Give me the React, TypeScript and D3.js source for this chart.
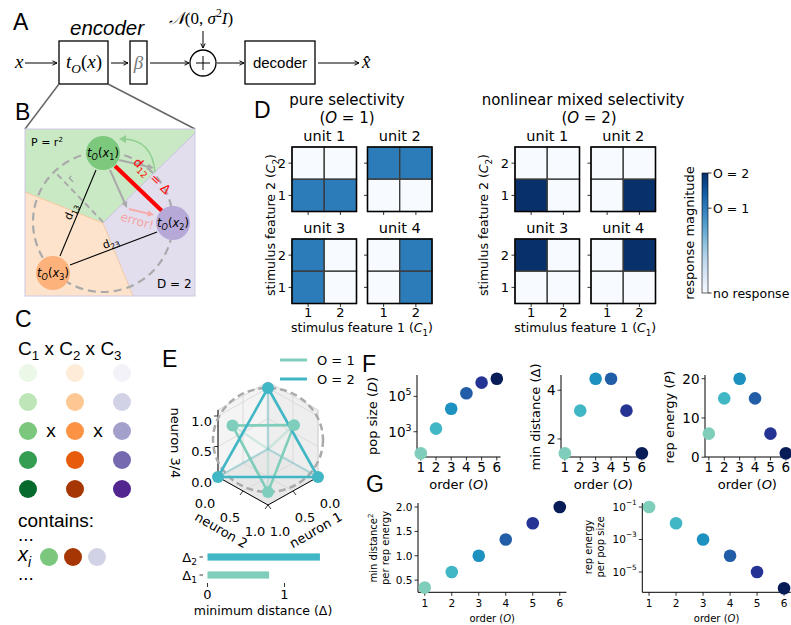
import React from "react";
import * as d3 from "d3";

const MPL = "DejaVu Sans, sans-serif";
const ARIAL = "Liberation Sans, Arial, sans-serif";
const SERIF = "Liberation Serif, serif";

// ---------------- F / G data ----------------
const ORDERS = [1, 2, 3, 4, 5, 6];
const ORDER_COLORS = ["#7fcdbb", "#41b6c4", "#1d91c0", "#225ea8", "#253494", "#081d58"];
const POP_SIZE = [60, 1500, 20000, 150000, 600000, 1000000];
const MIN_DISTANCE = [1.414, 3.162, 4.472, 4.472, 3.162, 1.414];
const REP_ENERGY = [6, 15, 20, 15, 6, 1];
const DIST2_PER_ENERGY = [0.35, 0.667, 1.0, 1.333, 1.667, 2.0];
const ENERGY_PER_POP = [1e-1, 1e-2, 1e-3, 1e-4, 1e-5, 1e-6];

// ---------------- D data ----------------
const C1_LEVELS = ["1", "2"];
const C2_LEVELS = ["2", "1"]; // top row first
const PURE_RESPONSES = [
  [[0, 0], [0.707, 0.707]],
  [[0.707, 0.707], [0, 0]],
  [[0.707, 0], [0.707, 0]],
  [[0, 0.707], [0, 0.707]],
];
const MIXED_RESPONSES = [
  [[0, 0], [1, 0]],
  [[0, 0], [0, 1]],
  [[1, 0], [0, 0]],
  [[0, 1], [0, 0]],
];
const UNIT_NAMES = ["unit 1", "unit 2", "unit 3", "unit 4"];
const COLORBAR_TICKS = [0, 0.707, 1];
const COLORBAR_LABELS = ["no response", "O = 1", "O = 2"];

// ---------------- E data ----------------
const E_SERIES = ["O = 1", "O = 2"];
const E_COLORS = ["#7fcdbb", "#41b6c4"];
const E_POINTS_O1 = [[0.71, 0, 0.71], [0, 0.52, 0.63], [0.77, 0.77, 0]];
const E_POINTS_O2 = [[1, 0, 0], [0, 1, 0], [0, 0, 1]];
const E_HIDDEN_POINT = [0, 0, 0];
const E_TICKS = [0, 0.5, 1];
const DELTA_NAMES = ["2", "1"];
const DELTA_VALUES = [1.46, 0.8];
const DELTA_TICKS = [0, 1];

// ---------------- C data ----------------
const C_LEVEL_T = [0.08, 0.28, 0.48, 0.68, 0.88];
const C_SCHEMES = [d3.interpolateGreens, d3.interpolateOranges, d3.interpolatePurples];
const C_EXAMPLE_LEVELS = [2, 4, 1];

type Seg = { t: string; it?: boolean; sub?: boolean; sup?: boolean };
function Rich(p: any) {
  const { x, y, segs, size, family = MPL, anchor = "start", fill = "#000", transform, dy } = p;
  let cur = 0;
  return (
    <text x={x} y={y} dy={dy} fontSize={size} fontFamily={family} textAnchor={anchor} fill={fill} transform={transform}>
      {segs.map((s: Seg, i: number) => {
        const target = s.sub ? size * 0.28 : s.sup ? -size * 0.42 : 0;
        const d = target - cur;
        cur = target;
        return (
          <tspan key={i} dy={d} fontStyle={s.it ? "italic" : undefined} fontSize={s.sub || s.sup ? size * 0.7 : undefined}>
            {s.t}
          </tspan>
        );
      })}
    </text>
  );
}

function Arrow(p: any) {
  const { x1, y1, x2, y2, color = "#000", w = 1, head = 6, open = false, spread = 0.45 } = p;
  const a = Math.atan2(y2 - y1, x2 - x1);
  const p1 = [x2 - head * Math.cos(a - spread), y2 - head * Math.sin(a - spread)];
  const p2 = [x2 - head * Math.cos(a + spread), y2 - head * Math.sin(a + spread)];
  const ex = open ? x2 : x2 - head * 0.7 * Math.cos(a);
  const ey = open ? y2 : y2 - head * 0.7 * Math.sin(a);
  return (
    <g>
      <line x1={x1} y1={y1} x2={ex} y2={ey} stroke={color} strokeWidth={w} />
      {open ? (
        <polyline points={`${p1} ${x2},${y2} ${p2}`} fill="none" stroke={color} strokeWidth={w} />
      ) : (
        <polygon points={`${p1} ${x2},${y2} ${p2}`} fill={color} />
      )}
    </g>
  );
}

function PanelLetter({ x, y, t }: any) {
  return (
    <text x={x} y={y} fontSize={23} fontFamily={ARIAL}>
      {t}
    </text>
  );
}

// ---------------- Panel A ----------------
function PanelA() {
  const yc = 63;
  return (
    <g>
      <PanelLetter x={13} y={30} t="A" />
      <text x={70} y={35} fontSize={20.5} fontFamily={ARIAL} fontStyle="italic">encoder</text>
      <Rich x={201} y={24} size={17} family={SERIF} anchor="middle"
        segs={[{ t: "𝒩", it: true }, { t: "(0, " }, { t: "σ", it: true }, { t: "2", sup: true }, { t: "I", it: true }, { t: ")" }]} />
      <Arrow x1={203} y1={31} x2={203} y2={48} open head={5} />
      <text x={15} y={68} fontSize={19} fontFamily={SERIF} fontStyle="italic">x</text>
      <Arrow x1={25} y1={yc} x2={57} y2={yc} open head={5} />
      <rect x={59} y={41} width={49} height={43} fill="none" stroke="#000" strokeWidth={1.3} />
      <Rich x={84} y={68} size={19} family={SERIF} anchor="middle"
        segs={[{ t: "t", it: true }, { t: "O", it: true, sub: true }, { t: "(" }, { t: "x", it: true }, { t: ")" }]} />
      <Arrow x1={111} y1={yc} x2={128} y2={yc} open head={5} />
      <rect x={130} y={41} width={17} height={43} fill="none" stroke="#000" strokeWidth={1.3} />
      <text x={138.5} y={69} fontSize={19} fontFamily={SERIF} fontStyle="italic" textAnchor="middle" fill="#777">β</text>
      <Arrow x1={150} y1={yc} x2={189} y2={yc} open head={5} />
      <circle cx={203} cy={yc} r={13} fill="none" stroke="#000" strokeWidth={1.3} />
      <line x1={196} x2={210} y1={yc} y2={yc} stroke="#000" strokeWidth={1} />
      <line x1={203} x2={203} y1={yc - 7} y2={yc + 7} stroke="#000" strokeWidth={1} />
      <Arrow x1={217} y1={yc} x2={244} y2={yc} open head={5} />
      <rect x={245} y={41} width={70} height={43} fill="none" stroke="#000" strokeWidth={1.3} />
      <text x={280} y={68} fontSize={15} fontFamily={ARIAL} textAnchor="middle">decoder</text>
      <Arrow x1={318} y1={yc} x2={359} y2={yc} open head={5} />
      <text x={362} y={68} fontSize={19} fontFamily={SERIF} fontStyle="italic">{"x\u0302"}</text>
      <line x1={59} y1={84} x2={25} y2={129} stroke="#666" strokeWidth={1.5} />
      <line x1={108} y1={84} x2={195} y2={129} stroke="#666" strokeWidth={1.5} />
    </g>
  );
}

// ---------------- Panel B ----------------
function PanelB() {
  const c = [103, 223];
  const green = "#c9e8c4", orange = "#fde3cb", purple = "#e2deee";
  const x1 = [103, 153], x2 = [173, 223], x3 = [53, 273];
  return (
    <g>
      <PanelLetter x={15} y={120} t="B" />
      <polygon points={`25,129 195,129 195,133 ${c} 25,192`} fill={green} />
      <polygon points={`25,192 ${c} 133,296 25,296`} fill={orange} />
      <polygon points={`${c} 195,133 195,296 133,296`} fill={purple} />
      <line x1={25} y1={192} x2={c[0]} y2={c[1]} stroke="#f6c9a0" strokeWidth={1} />
      <line x1={c[0]} y1={c[1]} x2={195} y2={133} stroke="#c8c0dc" strokeWidth={1} />
      <line x1={c[0]} y1={c[1]} x2={133} y2={296} stroke="#f0c8a8" strokeWidth={1} />
      <rect x={25} y={129} width={170} height={167} fill="none" stroke="#cfc8e2" strokeWidth={1} />
      <circle cx={103} cy={222} r={70} fill="none" stroke="#aaa" strokeWidth={2.2} strokeDasharray="8,5" />
      <line x1={103} y1={222} x2={55} y2={172} stroke="#aaa" strokeWidth={2} strokeDasharray="6,4" />
      <text x={0} y={0} fontSize={11} fill="#999" fontFamily={MPL} transform="translate(72,183) rotate(-45)">r</text>
      <text x={31} y={146} fontSize={11} fontFamily={MPL}>P = r<tspan dy={-4} fontSize={7}>2</tspan></text>
      <text x={157} y={288} fontSize={12} fontFamily={MPL}>D = 2</text>
      <line x1={96} y1={170} x2={60} y2={256} stroke="#000" strokeWidth={1.1} />
      <line x1={157} y1={232} x2={70} y2={265} stroke="#000" strokeWidth={1.1} />
      <Rich x={0} y={0} size={11} anchor="middle" transform="translate(74,213) rotate(-67)"
        segs={[{ t: "d" }, { t: "13", sub: true }]} />
      <Rich x={0} y={0} size={11} anchor="middle" transform="translate(112,246) rotate(-21)"
        segs={[{ t: "d" }, { t: "23", sub: true }]} />
      <Arrow x1={110} y1={170} x2={127} y2={208} color="#aaa" w={2} head={7} />
      <Arrow x1={119} y1={160} x2={154} y2={168} color="#aaa" w={2} head={7} />
      <path d="M155,172 Q152,140 124,139" fill="none" stroke="#8fd08f" strokeWidth={1.5} />
      <polygon points="119,139 126,135 126,143" fill="#8fd08f" />
      <Arrow x1={129} y1={209} x2={154} y2={215} color="#f7a8a8" w={2} head={7} />
      <text x={0} y={0} fontSize={12} fontFamily={MPL} fill="#f6a3a3" textAnchor="middle" transform="translate(136,225) rotate(16)">error!</text>
      <line x1={115} y1={166} x2={162} y2={211} stroke="#ff0000" strokeWidth={4} />
      <Rich x={0} y={0} size={12.5} fill="#ff0000" anchor="middle" transform="translate(149,179) rotate(44)"
        segs={[{ t: "d" }, { t: "12", sub: true }, { t: " = Δ" }]} />
      <circle cx={x1[0]} cy={x1[1]} r={17} fill="#7cc87c" />
      <circle cx={x2[0]} cy={x2[1]} r={17} fill="#b6a9d7" />
      <circle cx={x3[0]} cy={x3[1]} r={17} fill="#fdb27c" />
      {[[x1, "1"], [x2, "2"], [x3, "3"]].map(([p, n]: any, i) => (
        <Rich key={i} x={p[0]} y={p[1] + 4} size={11.5} anchor="middle"
          segs={[{ t: "t", it: true }, { t: "O", it: true, sub: true }, { t: "(" }, { t: "x", it: true }, { t: n, sub: true }, { t: ")" }]} />
      ))}
    </g>
  );
}

// ---------------- Panel C ----------------
function PanelC() {
  const colX = d3.scalePoint().domain(["0", "1", "2"]).range([28, 122]);
  const rowY = d3.scalePoint().domain(C_LEVEL_T.map(String)).range([373, 489]);
  return (
    <g fontFamily={ARIAL}>
      <PanelLetter x={15} y={327} t="C" />
      <Rich x={18} y={355} size={19} family={ARIAL}
        segs={[{ t: "C" }, { t: "1", sub: true }, { t: " x C" }, { t: "2", sub: true }, { t: " x C" }, { t: "3", sub: true }]} />
      {C_SCHEMES.map((sch, j) =>
        C_LEVEL_T.map((t) => (
          <circle key={`${j}-${t}`} cx={colX(String(j))} cy={rowY(String(t))} r={9} fill={sch(t)} />
        ))
      )}
      <text x={51} y={437} fontSize={19} textAnchor="middle">x</text>
      <text x={98} y={437} fontSize={19} textAnchor="middle">x</text>
      <text x={18} y={527} fontSize={19}>contains:</text>
      <text x={18} y={541} fontSize={19}>...</text>
      <Rich x={18} y={561} size={20} family={ARIAL} segs={[{ t: "x", it: true }, { t: "i", it: true, sub: true }]} />
      {C_SCHEMES.map((sch, j) => (
        <circle key={j} cx={49 + j * 24} cy={557} r={9} fill={sch(C_LEVEL_T[C_EXAMPLE_LEVELS[j]])} />
      ))}
      <text x={18} y={580} fontSize={19}>...</text>
    </g>
  );
}

// ---------------- Panel D ----------------
function Heatmap(p: any) {
  const { x0, y0, size, data, title, showYLabels, showXLabels } = p;
  const xb = d3.scaleBand().domain(C1_LEVELS).range([x0, x0 + size]);
  const yb = d3.scaleBand().domain(C2_LEVELS).range([y0, y0 + size]);
  const bw = xb.bandwidth();
  return (
    <g fontFamily={MPL}>
      {C2_LEVELS.map((c2, r) =>
        C1_LEVELS.map((c1, c) => (
          <rect key={`${r}${c}`} x={xb(c1)} y={yb(c2)} width={bw} height={yb.bandwidth()}
            fill={d3.interpolateBlues(data[r][c])} stroke="#3a3a3a" strokeWidth={1.3} />
        ))
      )}
      <rect x={x0} y={y0} width={size} height={size} fill="none" stroke="#000" strokeWidth={1.4} />
      <text x={x0 + size / 2} y={y0 - 6} fontSize={14.5} textAnchor="middle">{title}</text>
      {C2_LEVELS.map((c2) => (
        <g key={c2}>
          <line x1={x0 - 3.5} x2={x0} y1={yb(c2)! + bw / 2} y2={yb(c2)! + bw / 2} stroke="#000" strokeWidth={0.8} />
          {showYLabels && (
            <text x={x0 - 6} y={yb(c2)! + bw / 2} dy="0.36em" fontSize={13} textAnchor="end">{c2}</text>
          )}
        </g>
      ))}
      {C1_LEVELS.map((c1) => (
        <g key={c1}>
          <line x1={xb(c1)! + bw / 2} x2={xb(c1)! + bw / 2} y1={y0 + size} y2={y0 + size + 3.5} stroke="#000" strokeWidth={0.8} />
          {showXLabels && (
            <text x={xb(c1)! + bw / 2} y={y0 + size + 13} fontSize={13} textAnchor="middle">{c1}</text>
          )}
        </g>
      ))}
    </g>
  );
}

function HeatmapGroup(p: any) {
  const { colX, rowY, size, responses, title, orderLabel, titleX, orderX, ylabelX } = p;
  return (
    <g fontFamily={MPL}>
      <text x={titleX} y={105} fontSize={15} textAnchor="middle">{title}</text>
      <Rich x={orderX} y={123} size={15} anchor="middle" segs={[{ t: "(" }, { t: "O", it: true }, { t: " = " + orderLabel + ")" }]} />
      {responses.map((data: any, i: number) => (
        <Heatmap key={i} x0={colX[i % 2]} y0={rowY[Math.floor(i / 2)]} size={size} data={data}
          title={UNIT_NAMES[i]} showYLabels={i % 2 === 0} showXLabels={i >= 2} />
      ))}
      <Rich x={(colX[0] + colX[1] + size) / 2} y={332} size={12.5} anchor="middle"
        segs={[{ t: "stimulus feature 1 (" }, { t: "C", it: true }, { t: "1", sub: true }, { t: ")" }]} />
      <Rich x={0} y={0} size={12.5} anchor="middle" transform={`translate(${ylabelX},225) rotate(-90)`}
        segs={[{ t: "stimulus feature 2 (" }, { t: "C", it: true }, { t: "2", sub: true }, { t: ")" }]} />
    </g>
  );
}

function Colorbar() {
  const x = 702, w = 6, top = 173, bottom = 293;
  const y = d3.scaleLinear().domain([0, 1]).range([bottom, top]);
  const stops = d3.range(0, 1.0001, 0.1);
  return (
    <g fontFamily={MPL}>
      <defs>
        <linearGradient id="cbar" x1="0" y1="1" x2="0" y2="0">
          {stops.map((s) => (
            <stop key={s} offset={s} stopColor={d3.interpolateBlues(s)} />
          ))}
        </linearGradient>
      </defs>
      <rect x={x} y={top} width={w} height={bottom - top} fill="url(#cbar)" stroke="#000" strokeWidth={0.6} />
      {COLORBAR_TICKS.map((t, i) => (
        <g key={i}>
          <line x1={x + w} x2={x + w + 3.5} y1={y(t)} y2={y(t)} stroke="#000" strokeWidth={0.8} />
          <text x={x + w + 5} y={y(t)} dy="0.36em" fontSize={12.5}>{COLORBAR_LABELS[i]}</text>
        </g>
      ))}
      <text x={0} y={0} fontSize={13} textAnchor="middle" transform={`translate(694,233) rotate(-90)`}>response magnitude</text>
    </g>
  );
}

function PanelD() {
  return (
    <g>
      <PanelLetter x={254} y={118} t="D" />
      <HeatmapGroup colX={[292, 367.5]} rowY={[147, 239]} size={64.5} responses={PURE_RESPONSES}
        title="pure selectivity" orderLabel="1" titleX={347} orderX={347} ylabelX={275} />
      <HeatmapGroup colX={[515, 591]} rowY={[147, 239]} size={64.5} responses={MIXED_RESPONSES}
        title="nonlinear mixed selectivity" orderLabel="2" titleX={583} orderX={589} ylabelX={488} />
      <Colorbar />
    </g>
  );
}

// ---------------- Panel E ----------------
const eN1x = d3.scaleLinear().domain([0, 1]).range([0, -50]);
const eN2x = d3.scaleLinear().domain([0, 1]).range([0, 50]);
const eNy = d3.scaleLinear().domain([0, 1]).range([0, 28]);
const eZy = d3.scaleLinear().domain([0, 1]).range([0, -61]);
function proj(p: number[]) {
  const [n1, n2, z] = p;
  return [268 + eN1x(n1) + eN2x(n2), 449 + eNy(n1) + eNy(n2) + eZy(z)];
}
function pts(list: number[][]) {
  return list.map((p) => proj(p).join(",")).join(" ");
}

function PanelE() {
  const zTop = 1.1;
  const gridC = "#d6d6d6";
  const tri = (P: number[][]) => [[P[0], P[1]], [P[1], P[2]], [P[2], P[0]]];
  const series = [E_POINTS_O1, E_POINTS_O2];
  const bx = d3.scaleLinear().domain([0, 1]).range([207.5, 284.5]);
  const by = d3.scaleBand().domain(DELTA_NAMES).range([548, 584]).paddingInner(0.6).paddingOuter(0.3);
  return (
    <g fontFamily={MPL}>
      <PanelLetter x={162} y={367} t="E" />
      {E_SERIES.map((s, i) => (
        <g key={s}>
          <line x1={280} x2={307} y1={360 + i * 19} y2={360 + i * 19} stroke={E_COLORS[i]} strokeWidth={3} />
          <text x={317} y={360 + i * 19} dy="0.36em" fontSize={13}>{s}</text>
        </g>
      ))}
      {/* panes */}
      <polygon points={pts([[0, 0, 0], [1, 0, 0], [1, 1, 0], [0, 1, 0]])} fill="#e8e8e8" />
      <polygon points={pts([[0, 0, 0], [1, 0, 0], [1, 0, zTop], [0, 0, zTop]])} fill="#f4f4f4" />
      <polygon points={pts([[0, 0, 0], [0, 1, 0], [0, 1, zTop], [0, 0, zTop]])} fill="#eeeeee" />
      {E_TICKS.map((t) => (
        <g key={t} stroke={gridC} strokeWidth={0.8} fill="none">
          <polyline points={pts([[t, 0, 0], [t, 0, zTop]])} />
          <polyline points={pts([[t, 0, 0], [t, 1, 0]])} />
          <polyline points={pts([[0, t, 0], [0, t, zTop]])} />
          <polyline points={pts([[0, t, 0], [1, t, 0]])} />
          <polyline points={pts([[0, 0, t], [1, 0, t]])} />
          <polyline points={pts([[0, 0, t], [0, 1, t]])} />
        </g>
      ))}
      <polyline points={pts([[1, 0, zTop], [0, 0, zTop], [0, 1, zTop], [0, 1, 0]])} fill="none" stroke="#cfcfcf" strokeWidth={0.8} />
      {/* axes */}
      <polyline points={pts([[1, 0, zTop], [1, 0, 0], [1, 1, 0], [0, 1, 0]])} fill="none" stroke="#000" strokeWidth={1} />
      {E_TICKS.map((t) => {
        const pz = proj([1, 0, t]);
        const p2 = proj([1, t, 0]);
        const p1 = proj([t, 1, 0]);
        const lab = d3.format(".1f")(t);
        return (
          <g key={t} fontSize={13}>
            <line x1={pz[0] - 4} x2={pz[0]} y1={pz[1]} y2={pz[1]} stroke="#000" strokeWidth={0.8} />
            <text x={pz[0] - 6} y={pz[1] + 5} dy="0.36em" textAnchor="end">{lab}</text>
            <line x1={p2[0]} x2={p2[0] - 3} y1={p2[1]} y2={p2[1] + 4} stroke="#000" strokeWidth={0.8} />
            <text x={p2[0] - 13} y={p2[1] + 26} dy="0.36em" textAnchor="middle">{lab}</text>
            <line x1={p1[0]} x2={p1[0] + 3} y1={p1[1]} y2={p1[1] + 4} stroke="#000" strokeWidth={0.8} />
            <text x={p1[0] + 12} y={p1[1] + 26} dy="0.36em" textAnchor="middle">{lab}</text>
          </g>
        );
      })}
      <text x={0} y={0} fontSize={13} textAnchor="middle" transform="translate(171,443) rotate(90)">neuron 3/4</text>
      <text x={0} y={0} fontSize={13} textAnchor="middle" transform="translate(219,534) rotate(30)">neuron 2</text>
      <text x={0} y={0} fontSize={13} textAnchor="middle" transform="translate(318,534) rotate(-30)">neuron 1</text>
      {/* dashed circle */}
      <ellipse cx={268} cy={440} rx={55} ry={52} fill="none" stroke="#aaa" strokeWidth={2.5} strokeDasharray="7,4" />
      {/* faint edges to hidden point */}
      {series.map((P, i) =>
        P.map((p, j) => (
          <polyline key={`${i}-${j}`} points={pts([p, E_HIDDEN_POINT])} stroke={E_COLORS[i]} strokeOpacity={0.3} strokeWidth={2.5} fill="none" />
        ))
      )}
      {series.map((P, i) =>
        tri(P).map((e, j) => (
          <polyline key={`t${i}-${j}`} points={pts(e)} stroke={E_COLORS[i]} strokeWidth={2.6} fill="none" />
        ))
      )}
      {series.map((P, i) =>
        P.map((p, j) => {
          const q = proj(p);
          return <circle key={`p${i}-${j}`} cx={q[0]} cy={q[1]} r={6} fill={E_COLORS[i]} />;
        })
      )}
      {/* delta bars */}
      {DELTA_NAMES.map((n, i) => (
        <g key={n}>
          <rect x={bx(0)} y={by(n)} width={bx(DELTA_VALUES[i]) - bx(0)} height={by.bandwidth()} fill={E_COLORS[1 - i]} />
          <line x1={199.5} x2={203} y1={by(n)! + by.bandwidth() / 2} y2={by(n)! + by.bandwidth() / 2} stroke="#000" strokeWidth={0.8} />
          <Rich x={197} y={by(n)! + by.bandwidth() / 2 + 4.5} size={13} anchor="end" segs={[{ t: "Δ" }, { t: n, sub: true }]} />
        </g>
      ))}
      {DELTA_TICKS.map((t) => (
        <g key={t}>
          <line x1={bx(t)} x2={bx(t)} y1={583} y2={587} stroke="#000" strokeWidth={0.8} />
          <text x={bx(t)} y={599} fontSize={13} textAnchor="middle">{t}</text>
        </g>
      ))}
      <text x={263} y={615} fontSize={12.5} textAnchor="middle">minimum distance (Δ)</text>
    </g>
  );
}

// ---------------- Panels F / G ----------------
function ScatterAxes(p: any) {
  const { left, right, top, bottom, y, values, yTicks, yFmt, fs, r, xtickBase, xlabelBase } = p;
  const x = d3.scaleLinear().domain([0.75, 6.25]).range([left, right]);
  return (
    <g fontFamily={MPL}>
      <line x1={left} x2={left} y1={top} y2={bottom} stroke="#000" strokeWidth={1} />
      <line x1={left} x2={right} y1={bottom} y2={bottom} stroke="#000" strokeWidth={1} />
      {ORDERS.map((o) => (
        <g key={o}>
          <line x1={x(o)} x2={x(o)} y1={bottom} y2={bottom + 3.5} stroke="#000" strokeWidth={0.8} />
          <text x={x(o)} y={xtickBase} fontSize={fs} textAnchor="middle">{o}</text>
        </g>
      ))}
      {yTicks.map((t: number) => (
        <g key={t}>
          <line x1={left - 3.5} x2={left} y1={y(t)} y2={y(t)} stroke="#000" strokeWidth={0.8} />
          <text x={left - 5.5} y={y(t)} dy="0.36em" fontSize={fs} textAnchor="end">{yFmt(t)}</text>
        </g>
      ))}
      {values.map((v: number, i: number) => (
        <circle key={i} cx={x(ORDERS[i])} cy={y(v)} r={r} fill={ORDER_COLORS[i]} />
      ))}
      <Rich x={(left + right) / 2} y={xlabelBase} size={fs - 0.5} anchor="middle" segs={[{ t: "order (" }, { t: "O", it: true }, { t: ")" }]} />
    </g>
  );
}

function pow10(e: number) {
  return (
    <>
      10<tspan dy={-6} fontSize="0.7em">{e < 0 ? "−" + -e : e}</tspan>
    </>
  );
}

function PanelsFG() {
  const fTop = 375, fBottom = 457;
  const yF1 = d3.scaleLog().domain([Math.pow(10, 1.57), Math.pow(10, 6.21)]).range([fBottom, fTop]);
  const yF2 = d3.scaleLinear().domain([1.26, 4.625]).range([fBottom, fTop]);
  const yF3 = d3.scaleLinear().domain([0.05, 20.95]).range([fBottom, fTop]);
  const gTop = 503, gBottom = 592.3;
  const yG1 = d3.scaleLinear().domain([0.25, 2.083]).range([gBottom, gTop]);
  const yG2 = d3.scaleLog().domain([Math.pow(10, -6.25), Math.pow(10, -0.75)]).range([gBottom, gTop]);
  const fsF = 13.5, fsG = 10.5;
  return (
    <g fontFamily={MPL}>
      <PanelLetter x={362} y={372} t="F" />
      <PanelLetter x={366} y={492} t="G" />
      <ScatterAxes left={417} right={500.6} top={fTop} bottom={fBottom} y={yF1} values={POP_SIZE}
        yTicks={[1e3, 1e5]} yFmt={(t: number) => pow10(Math.round(Math.log10(t)))} fs={fsF} r={6.3}
        xtickBase={472} xlabelBase={489} />
      <Rich x={0} y={0} size={13} anchor="middle" transform="translate(377,416) rotate(-90)"
        segs={[{ t: "pop size (" }, { t: "D", it: true }, { t: ")" }]} />
      <ScatterAxes left={561} right={645.7} top={fTop} bottom={fBottom} y={yF2} values={MIN_DISTANCE}
        yTicks={[2, 4]} yFmt={(t: number) => String(t)} fs={fsF} r={6.3} xtickBase={472} xlabelBase={489} />
      <text x={0} y={0} fontSize={13} textAnchor="middle" transform="translate(540,417) rotate(-90)">min distance (Δ)</text>
      <ScatterAxes left={705} right={789.7} top={fTop} bottom={fBottom} y={yF3} values={REP_ENERGY}
        yTicks={[0, 10, 20]} yFmt={(t: number) => String(t)} fs={fsF} r={6.3} xtickBase={472} xlabelBase={489} />
      <Rich x={0} y={0} size={13} anchor="middle" transform="translate(674,417) rotate(-90)"
        segs={[{ t: "rep energy (" }, { t: "P", it: true }, { t: ")" }]} />

      <ScatterAxes left={418} right={566.5} top={gTop} bottom={gBottom} y={yG1} values={DIST2_PER_ENERGY}
        yTicks={[0.5, 1, 1.5, 2]} yFmt={(t: number) => d3.format(".1f")(t)} fs={fsG} r={6.3} xtickBase={607} xlabelBase={622} />
      <g fontSize={10}>
        <text x={0} y={0} textAnchor="middle" transform="translate(377,548) rotate(-90)">min distance<tspan dy={-4} fontSize={7}>2</tspan></text>
        <text x={0} y={0} textAnchor="middle" transform="translate(389,548) rotate(-90)">per rep energy</text>
      </g>
      <ScatterAxes left={642.3} right={790.8} top={gTop} bottom={gBottom} y={yG2} values={ENERGY_PER_POP}
        yTicks={[1e-1, 1e-3, 1e-5]} yFmt={(t: number) => pow10(Math.round(Math.log10(t)))} fs={fsG} r={6.3} xtickBase={607} xlabelBase={622} />
      <g fontSize={10}>
        <text x={0} y={0} textAnchor="middle" transform="translate(592,547) rotate(-90)">rep energy</text>
        <text x={0} y={0} textAnchor="middle" transform="translate(604,547) rotate(-90)">per pop size</text>
      </g>
    </g>
  );
}

export default function App() {
  return (
    <svg width={791} height={625} style={{ position: "absolute", left: 0, top: 0 }} xmlns="http://www.w3.org/2000/svg">
      <rect x={0} y={0} width={791} height={625} fill="#fff" />
      <PanelA />
      <PanelB />
      <PanelC />
      <PanelD />
      <PanelE />
      <PanelsFG />
    </svg>
  );
}
